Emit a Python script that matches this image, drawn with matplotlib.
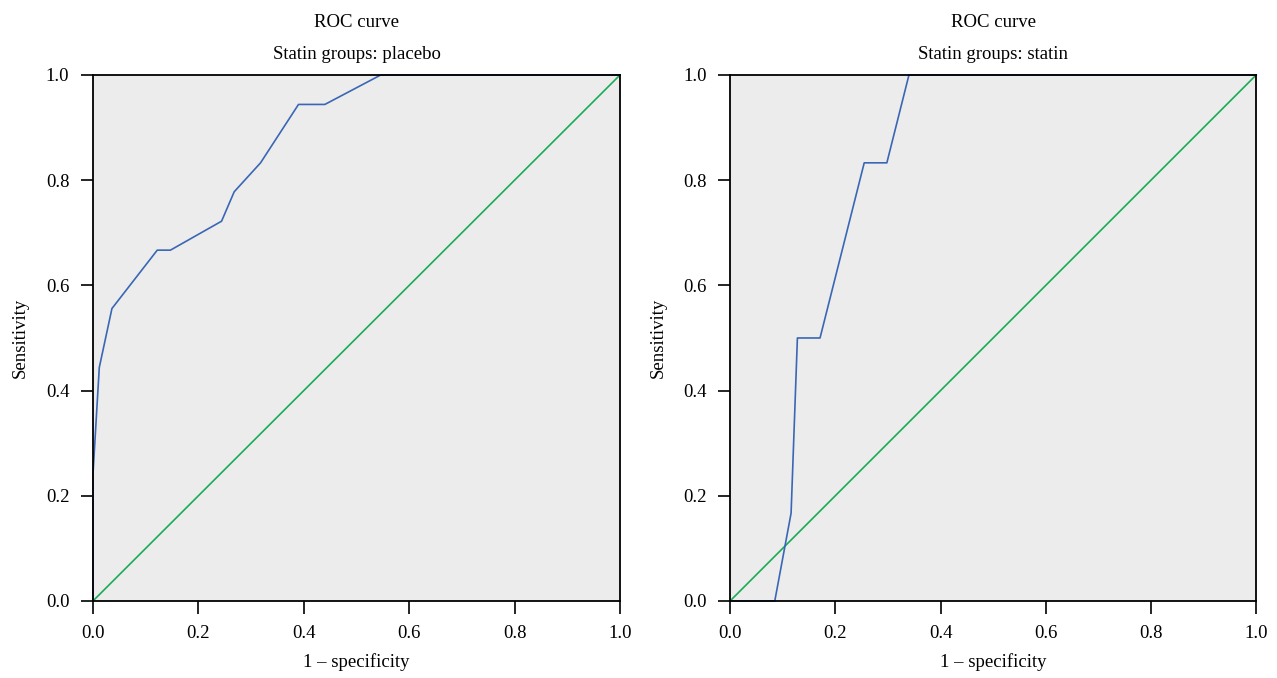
import matplotlib
matplotlib.use("Agg")
import matplotlib.pyplot as plt

# --- data --- #
placebo_fpr = [0.0, 0.0, 0.012, 0.036, 0.122, 0.147, 0.244, 0.268, 0.318, 0.390, 0.440, 0.546, 1.0]
placebo_tpr = [0.0, 0.241, 0.444, 0.556, 0.667, 0.667, 0.722, 0.778, 0.833, 0.944, 0.944, 1.0, 1.0]

statin_fpr = [0.0, 0.085, 0.116, 0.128, 0.171, 0.255, 0.298, 0.340, 1.0]
statin_tpr = [0.0, 0.0, 0.167, 0.5, 0.5, 0.833, 0.833, 1.0, 1.0]

ref_line = [0.0, 1.0]
ticks = [0.0, 0.2, 0.4, 0.6, 0.8, 1.0]
tick_labels = ["0.0", "0.2", "0.4", "0.6", "0.8", "1.0"]
groups = ["placebo", "statin"]

plt.rcParams['font.family'] = ['Liberation Serif', 'DejaVu Serif']
plt.rcParams['font.size'] = 13.5

BLUE = "#3a67b5"
GREEN = "#1aab55"
BG = "#ececec"


def draw_roc( ax, fpr, tpr, group ):
	"""! @brief draw one ROC panel """
	ax.set_facecolor( BG )
	ax.plot( ref_line, ref_line, color=GREEN, lw=1.2, clip_on=False, zorder=1.9 )
	ax.plot( fpr, tpr, color=BLUE, lw=1.2, clip_on=False, zorder=2 )
	ax.set_xlim( 0, 1 )
	ax.set_ylim( 0, 1 )
	ax.set_xticks( ticks )
	ax.set_xticklabels( tick_labels )
	ax.set_yticks( ticks )
	ax.set_yticklabels( tick_labels )
	ax.tick_params( direction="out", length=9, width=1.2, pad=8, labelsize=13.5 )
	for sp in ax.spines.values():
		sp.set_linewidth( 1.3 )
		sp.set_color( "black" )
		sp.set_zorder( 3 )
	ax.set_xlabel( "1 \u2013 specificity", labelpad=8 )
	ax.set_ylabel( "Sensitivity", labelpad=12 )
	ax.text( 0.5, 1.083, "ROC curve", transform=ax.transAxes, ha="center", va="bottom" )
	ax.text( 0.5, 1.022, "Statin groups: " + group, transform=ax.transAxes, ha="center", va="bottom" )


fig = plt.figure( figsize=(12.77, 6.78), dpi=100 )
ax1 = fig.add_axes( [0.0728, 0.1136, 0.4127, 0.7758] )
ax2 = fig.add_axes( [0.5717, 0.1136, 0.4120, 0.7758] )

draw_roc( ax1, placebo_fpr, placebo_tpr, groups[0] )
draw_roc( ax2, statin_fpr, statin_tpr, groups[1] )

fig.savefig( "out.png", dpi=100 )
